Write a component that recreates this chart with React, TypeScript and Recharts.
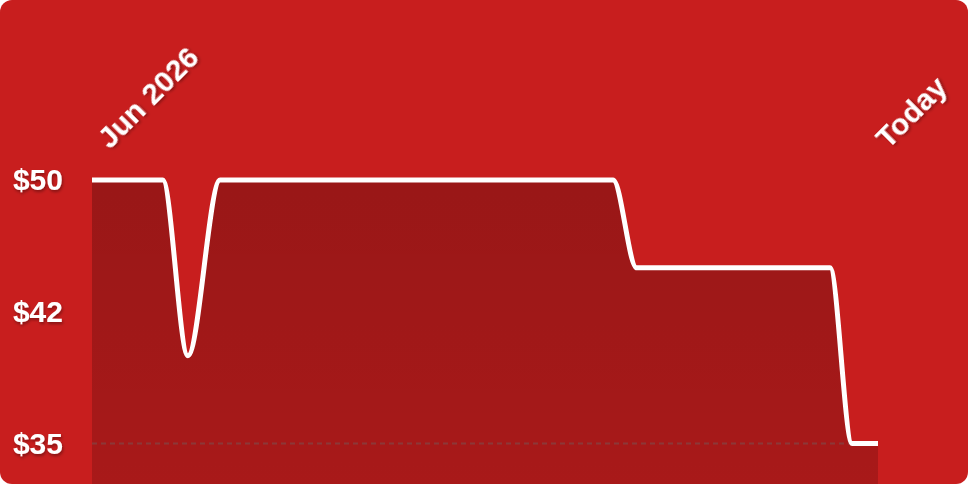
import React from 'react';
import { AreaChart, Area, XAxis, YAxis, CartesianGrid } from 'recharts';

// position along the period (0 = first day, 100 = today)
const xPositions = [0, 9, 12.2, 16.3, 66.3, 69.3, 93.9, 96.7, 100];
const prices = [50, 50, 40, 50, 50, 45, 45, 35, 35];

const xTickValues = [1, 100];
const xTickLabels = ['Jun 2026', 'Today'];
const yTickValues = [35, 42.5, 50];
const gridValues = [35];

const data = xPositions.map((x, i) => ({ x, price: prices[i] }));

const FONT = '"Liberation Sans", Arial, Helvetica, sans-serif';

const XTick = (props: any) => {
  const { x, y, payload } = props;
  const idx = xTickValues.indexOf(payload.value);
  const label = idx >= 0 ? xTickLabels[idx] : String(payload.value);
  const tx = x + 10;
  const ty = y - 30;
  return (
    <text
      x={tx}
      y={ty}
      transform={`rotate(-45 ${tx} ${ty})`}
      textAnchor="start"
      fill="#ffffff"
      fontSize={30}
      fontWeight={700}
      fontFamily={FONT}
      filter="url(#txtShadow)"
    >
      {label}
    </text>
  );
};

const YTick = (props: any) => {
  const { x, y, payload } = props;
  return (
    <text
      x={x - 29}
      y={y}
      dy={10}
      textAnchor="end"
      fill="#ffffff"
      fontSize={30}
      fontWeight={700}
      fontFamily={FONT}
      filter="url(#txtShadow)"
    >
      {`$${Math.floor(payload.value)}`}
    </text>
  );
};

export default function App() {
  return (
    <div
      style={{
        position: 'absolute',
        left: 0,
        top: 0,
        width: 968,
        height: 484,
        background: '#c81e1e',
        borderRadius: 12,
        overflow: 'hidden',
      }}
    >
      <AreaChart
        width={968}
        height={484}
        data={data}
        margin={{ top: 150, right: 90, bottom: 0, left: 0 }}
      >
        <defs>
          <linearGradient id="areaFill" x1="0" y1="0" x2="0" y2="1">
            <stop offset="0%" stopColor="#000000" stopOpacity={0.235} />
            <stop offset="100%" stopColor="#000000" stopOpacity={0.16} />
          </linearGradient>
          <filter id="txtShadow" x="-20%" y="-40%" width="140%" height="180%">
            <feDropShadow dx="1" dy="2" stdDeviation="1.5" floodColor="#000000" floodOpacity="0.35" />
          </filter>
        </defs>
        <CartesianGrid
          vertical={false}
          horizontalValues={gridValues}
          stroke="#a84444"
          strokeWidth={2}
          strokeDasharray="5 4"
        />
        <XAxis
          dataKey="x"
          type="number"
          domain={[0, 100]}
          orientation="top"
          height={30}
          ticks={xTickValues}
          tick={<XTick />}
          tickLine={false}
          axisLine={false}
          tickSize={0}
          tickMargin={0}
          interval={0}
        />
        <YAxis
          type="number"
          domain={[32.7, 50]}
          ticks={yTickValues}
          width={92}
          tick={<YTick />}
          tickLine={false}
          axisLine={false}
          tickSize={0}
          tickMargin={0}
          interval={0}
        />
        <Area
          type="monotone"
          dataKey="price"
          stroke="#ffffff"
          strokeWidth={5}
          fill="url(#areaFill)"
          fillOpacity={1}
          isAnimationActive={false}
          dot={false}
          activeDot={false}
        />
      </AreaChart>
    </div>
  );
}
